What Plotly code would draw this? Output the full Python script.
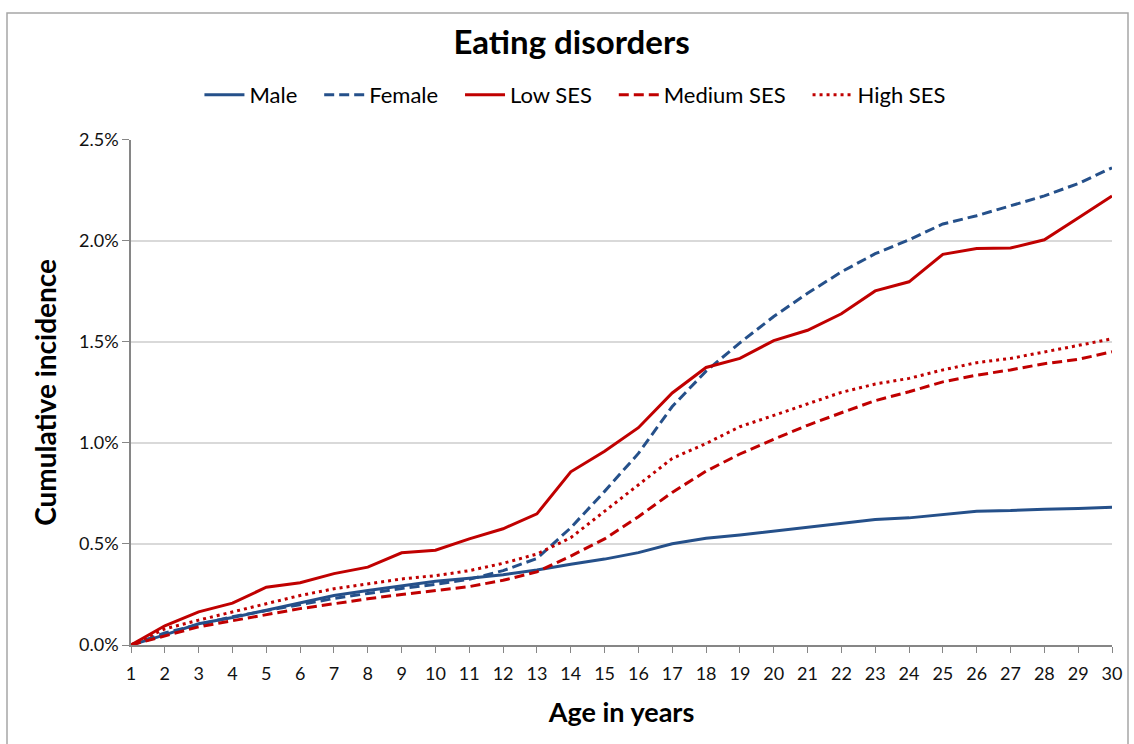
import plotly.graph_objects as go

ages = list(range(1, 31))

# cumulative incidence in percent
male = [0.0, 0.05, 0.105, 0.136, 0.172, 0.21, 0.245, 0.27, 0.294, 0.315,
        0.33, 0.348, 0.371, 0.40, 0.425, 0.457, 0.501, 0.528, 0.544, 0.564,
        0.583, 0.604, 0.621, 0.629, 0.645, 0.662, 0.665, 0.672, 0.675, 0.681]
female = [0.0, 0.06, 0.10, 0.14, 0.17, 0.20, 0.23, 0.255, 0.28, 0.30,
          0.325, 0.368, 0.428, 0.58, 0.76, 0.948, 1.18, 1.355, 1.495, 1.625,
          1.74, 1.846, 1.936, 2.005, 2.083, 2.124, 2.173, 2.222, 2.283, 2.361]
low_ses = [0.0, 0.095, 0.164, 0.207, 0.286, 0.308, 0.353, 0.385, 0.456, 0.469,
           0.525, 0.575, 0.649, 0.857, 0.959, 1.075, 1.247, 1.373, 1.418, 1.506,
           1.557, 1.639, 1.752, 1.797, 1.933, 1.962, 1.964, 2.005, 2.113, 2.222]
medium_ses = [0.0, 0.045, 0.09, 0.12, 0.15, 0.18, 0.204, 0.229, 0.25, 0.27,
              0.289, 0.32, 0.362, 0.44, 0.525, 0.635, 0.755, 0.86, 0.945, 1.018,
              1.087, 1.149, 1.209, 1.253, 1.302, 1.335, 1.361, 1.392, 1.413, 1.451]
high_ses = [0.0, 0.08, 0.123, 0.164, 0.204, 0.245, 0.278, 0.302, 0.327, 0.343,
            0.368, 0.404, 0.45, 0.531, 0.662, 0.79, 0.923, 0.997, 1.08, 1.136,
            1.193, 1.25, 1.291, 1.319, 1.361, 1.397, 1.418, 1.449, 1.482, 1.515]

y_ticks = [0, 0.5, 1.0, 1.5, 2.0, 2.5]
y_labels = [f"{v:.1f}%" for v in y_ticks]

BLUE = "#25508A"
RED = "#C00000"
FONT = "Lato"

series = [
    ("Male", male, BLUE, "solid"),
    ("Female", female, BLUE, "10px,5px"),
    ("Low SES", low_ses, RED, "solid"),
    ("Medium SES", medium_ses, RED, "10px,5px"),
    ("High SES", high_ses, RED, "3px,4px"),
]

fig = go.Figure()
for i, (name, vals, color, dash) in enumerate(series):
    # a little extra room between legend entries, as in the original
    label = name if i == len(series) - 1 else name + "\u00a0\u00a0\u00a0"
    fig.add_trace(go.Scatter(x=ages, y=vals, name=label, mode="lines",
                             line=dict(color=color, width=3, dash=dash)))

W, H = 1134, 744
ml, mr, mt, mb = 131, 22, 135, 99
pw, ph = W - ml - mr, H - mt - mb

fig.update_layout(
    width=W, height=H,
    margin=dict(l=ml, r=mr, t=mt, b=mb),
    paper_bgcolor="white", plot_bgcolor="white",
    font=dict(family=FONT, color="#000000"),
    title=dict(text="<b>Eating disorders</b>", x=0.504, xanchor="center",
               y=1 - 42 / H, yanchor="middle", yref="container",
               font=dict(size=33, family=FONT)),
    legend=dict(orientation="h", xref="container", yref="container",
                x=0.507, xanchor="center", y=1 - 95 / H, yanchor="middle",
                font=dict(size=22, family=FONT), itemwidth=40,
                bgcolor="rgba(0,0,0,0)"),
    showlegend=True,
)

fig.update_xaxes(
    range=[1, 30], tickmode="array", tickvals=ages,
    showgrid=False, showline=True, linecolor="#868686", linewidth=1.5,
    ticks="outside", ticklen=6, tickcolor="#868686", ticklabelstandoff=6,
    tickfont=dict(size=18, family=FONT, color="#111111"),
    title=dict(text="<b>Age in years</b>", font=dict(size=27, family=FONT), standoff=20),
    zeroline=False,
)
fig.update_yaxes(
    range=[0, 2.5], tickmode="array", tickvals=y_ticks, ticktext=y_labels,
    showgrid=True, gridcolor="#d9d9d9", gridwidth=1.5,
    showline=True, linecolor="#868686", linewidth=1.5,
    ticks="outside", ticklen=7, tickcolor="#868686",
    tickfont=dict(size=18, family=FONT, color="#111111"),
    title=dict(text="<b>Cumulative incidence</b>", font=dict(size=28, family=FONT), standoff=14),
    zeroline=False,
)

# outer chart frame like the spreadsheet chart border
fig.add_shape(type="rect", xref="paper", yref="paper",
              x0=(7 - ml) / pw, x1=(W - 6 - ml) / pw,
              y0=(H - mb - (H + 4)) / ph, y1=(H - mb - 7) / ph,
              line=dict(color="#a6a6a6", width=1.5), layer="below")

fig.write_html("out.html", config={"displayModeBar": False},
               post_script="document.body.style.margin='0px';")
